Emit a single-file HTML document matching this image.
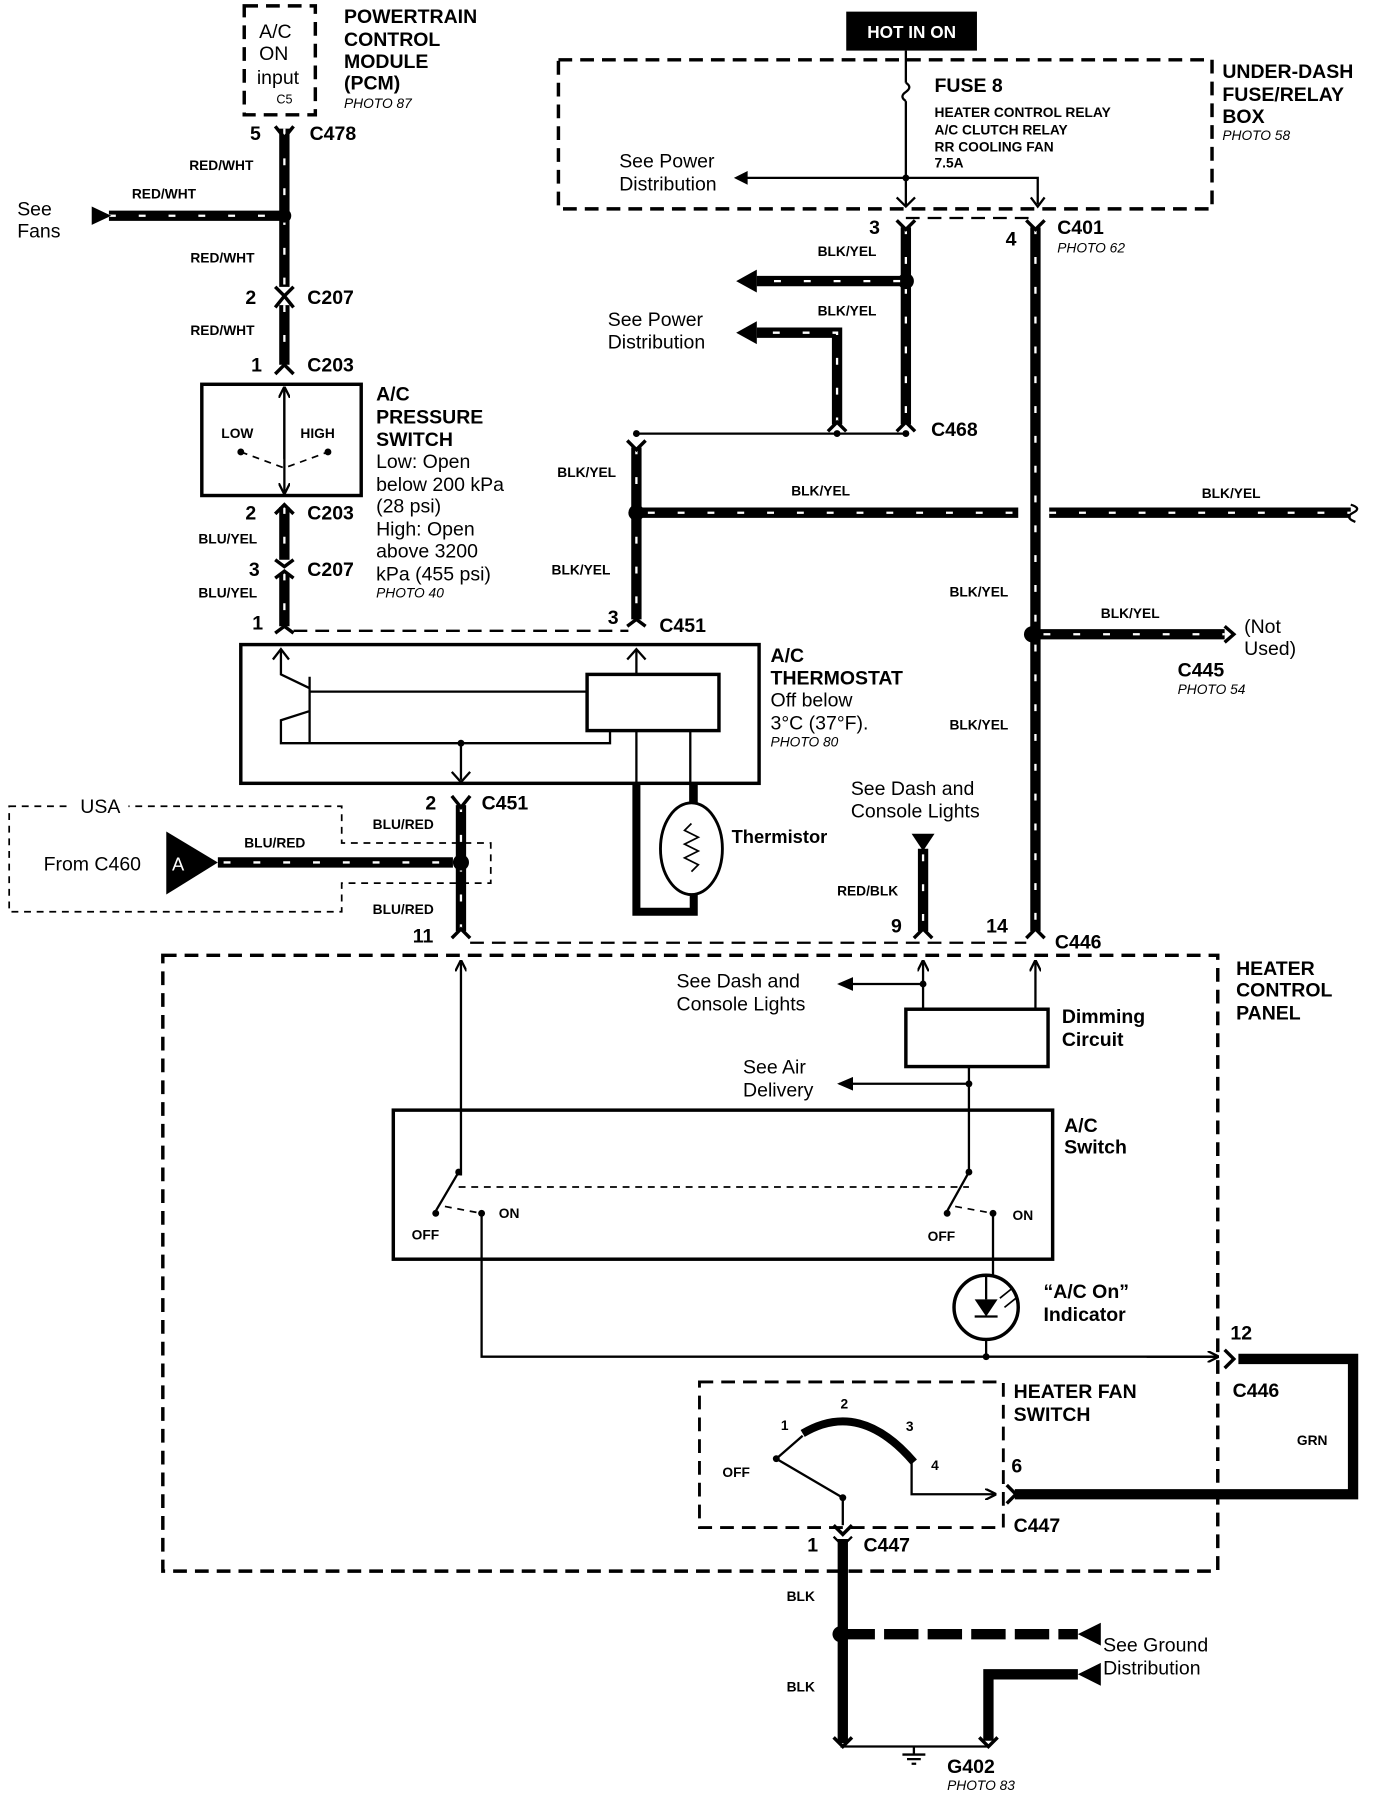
<!DOCTYPE html>
<html><head><meta charset="utf-8"><style>
html,body{margin:0;padding:0;background:#fff;}
svg{display:block;}
text{font-family:"Liberation Sans",Arial,sans-serif;fill:#000;}
.b{font-weight:bold;font-size:17px;}
.n{font-size:17px;}
.s{font-weight:bold;font-size:12px;}
.p{font-style:italic;font-size:12px;}
.w{stroke:#000;stroke-width:9;fill:none;}
.wd{stroke:#fff;stroke-width:2;stroke-dasharray:6 20;fill:none;}
.t{stroke:#000;stroke-width:2;fill:none;}
.d{stroke:#000;stroke-width:3;fill:none;stroke-dasharray:12 7;}
.dt{stroke:#000;stroke-width:1.5;fill:none;stroke-dasharray:6 5;}
</style></head><body>
<svg width="1376" height="1796" viewBox="0 0 1200 1566" xmlns="http://www.w3.org/2000/svg">
<defs>
<marker id="ar" markerWidth="10" markerHeight="10" refX="9" refY="5" orient="auto" markerUnits="userSpaceOnUse"><path d="M0,0 L10,5 L0,10" fill="none" stroke="#000" stroke-width="2"/></marker>
<marker id="af" markerWidth="14" markerHeight="12" refX="12" refY="6" orient="auto" markerUnits="userSpaceOnUse"><path d="M0,0 L14,6 L0,12 Z" fill="#000"/></marker>
</defs>

<!-- PCM -->
<rect x="213" y="5" width="62" height="95" class="d"/>
<text x="226" y="33" class="n">A/C</text><text x="226" y="52" class="n">ON</text><text x="224" y="73" class="n">input</text><text x="241" y="90" style="font-size:11px">C5</text>
<text x="300" y="20" class="b">POWERTRAIN</text><text x="300" y="40" class="b">CONTROL</text><text x="300" y="59" class="b">MODULE</text><text x="300" y="78" class="b">(PCM)</text><text x="300" y="94" class="p">PHOTO 87</text>

<!-- left wire -->
<path d="M248,112 V250 M248,266 V318" class="w"/><path d="M248,112 V250 M248,266 V318" class="wd"/>
<path d="M240,110 L248,120 L256,110 M240,268 L248,258 L256,268 M240,250 L248,258 L256,250 M240,326 L248,318 L256,326" class="t" style="stroke-width:3"/>
<text x="218" y="122" class="b">5</text><text x="270" y="122" class="b">C478</text>
<text x="165" y="148" class="s">RED/WHT</text><text x="166" y="229" class="s">RED/WHT</text><text x="166" y="292" class="s">RED/WHT</text>
<path d="M95,188 H248" class="w"/><path d="M95,188 H248" class="wd"/>
<path d="M80,180 L97,188 L80,196 Z"/><circle cx="248" cy="188" r="6"/>
<text x="115" y="173" class="s">RED/WHT</text>
<text x="15" y="188" class="n">See</text><text x="15" y="207" class="n">Fans</text>
<text x="214" y="265" class="b">2</text><text x="268" y="265" class="b">C207</text>
<text x="219" y="324" class="b">1</text><text x="268" y="324" class="b">C203</text>

<!-- pressure switch -->
<rect x="176" y="335" width="139" height="97" class="t" style="stroke-width:3"/>
<path d="M248,338 V430" class="t" marker-end="url(#ar)"/><path d="M248,400 V338" class="t" marker-end="url(#ar)"/>
<text x="193" y="382" class="s">LOW</text><text x="262" y="382" class="s">HIGH</text>
<circle cx="210" cy="394" r="3"/><circle cx="286" cy="394" r="3"/>
<path d="M210,394 L248,408 L286,394" class="dt"/>
<text x="328" y="349" class="b">A/C</text><text x="328" y="369" class="b">PRESSURE</text><text x="328" y="389" class="b">SWITCH</text>
<text x="328" y="408" class="n">Low: Open</text><text x="328" y="428" class="n">below 200 kPa</text><text x="328" y="447" class="n">(28 psi)</text><text x="328" y="467" class="n">High: Open</text><text x="328" y="486" class="n">above 3200</text><text x="328" y="506" class="n">kPa (455 psi)</text><text x="328" y="521" class="p">PHOTO 40</text>
<path d="M248,442 V488 M248,500 V546" class="w"/><path d="M248,442 V488 M248,500 V546" class="wd"/>
<path d="M240,448 L248,440 L256,448 M240,488 L248,494 L256,488 M240,504 L248,498 L256,504 M240,552 L248,546 L256,552" class="t" style="stroke-width:3"/>
<text x="214" y="453" class="b">2</text><text x="268" y="453" class="b">C203</text>
<text x="173" y="474" class="s">BLU/YEL</text><text x="173" y="521" class="s">BLU/YEL</text>
<text x="217" y="502" class="b">3</text><text x="268" y="502" class="b">C207</text>
<text x="220" y="549" class="b">1</text>
<path d="M256,550 H548" class="d" style="stroke-width:2"/>

<!-- thermostat -->
<rect x="210" y="562" width="452" height="121" class="t" style="stroke-width:3"/>
<rect x="512" y="588" width="115" height="49" class="t" style="stroke-width:3"/>
<path d="M245,567 V588 L270,600 M270,590 V648 M270,603 H512 M270,620 L245,628 V648 H532 V637 M402,648 V680" class="t"/>
<path d="M238,575 L245,566 L252,575" class="t"/>
<circle cx="402" cy="648" r="3"/>
<path d="M394,673 L402,682 L410,673 M547,575 L555,566 L563,575" class="t"/>
<path d="M555,566 V588" class="t"/>
<path d="M555,637 V700 M602,637 V700" class="t"/>
<text x="672" y="577" class="b">A/C</text><text x="672" y="597" class="b">THERMOSTAT</text><text x="672" y="616" class="n">Off below</text><text x="672" y="636" class="n">3°C (37°F).</text><text x="672" y="651" class="p">PHOTO 80</text>
<!-- thermistor -->
<path d="M555,683 V795 H605 V683" class="t" style="stroke-width:7"/>
<ellipse cx="603" cy="740" rx="27" ry="40" fill="#fff" stroke="#000" stroke-width="2.5"/>
<path d="M603,718 L597,724 L609,730 L597,736 L609,742 L597,748 L609,754 L603,760" class="t" style="stroke-width:1.5"/>
<text x="638" y="735" class="b" style="font-size:16px">Thermistor</text>

<!-- C451 pin 3 / BLK/YEL -->
<path d="M555,390 V540" class="w"/><path d="M555,390 V540" class="wd"/>
<path d="M547,546 L555,540 L563,546 M547,384 L555,392 L563,384" class="t" style="stroke-width:3"/>
<circle cx="555" cy="378" r="3"/>
<text x="486" y="416" class="s">BLK/YEL</text><text x="481" y="501" class="s">BLK/YEL</text>
<text x="530" y="544" class="b">3</text><text x="575" y="551" class="b">C451</text>
<circle cx="555" cy="447" r="7"/>
<path d="M555,447 H888 M915,447 H1178" class="w"/><path d="M565,447 H888 M915,447 H1178" class="wd"/>
<path d="M1178,440 Q1188,443 1180,447 Q1172,451 1182,455" class="t"/>
<text x="690" y="432" class="s">BLK/YEL</text><text x="1048" y="434" class="s">BLK/YEL</text>

<!-- fuse box -->
<rect x="738" y="10" width="114" height="34" fill="#000"/>
<text x="795" y="33" text-anchor="middle" style="font-size:15px;fill:#fff;font-weight:bold">HOT IN ON</text>
<rect x="487" y="52" width="570" height="130" class="d"/>
<path d="M790,44 V72 M790,88 V180 M790,155 H648 M790,155 H905 V178" class="t"/>
<path d="M790,72 Q796,76 790,80 Q784,84 790,88" class="t"/>
<path d="M652,149 L640,155 L652,161 Z"/><path d="M899,172 L905,180 L911,172" class="t"/><circle cx="790" cy="155" r="3"/>
<path d="M782,172 L790,180 L798,172" class="t"/>
<text x="815" y="80" class="b">FUSE 8</text>
<text x="815" y="102" class="s">HEATER CONTROL RELAY</text><text x="815" y="117" class="s">A/C CLUTCH RELAY</text><text x="815" y="132" class="s">RR COOLING FAN</text><text x="815" y="146" class="s">7.5A</text>
<text x="540" y="146" class="n">See Power</text><text x="540" y="166" class="n">Distribution</text>
<text x="1066" y="68" class="b">UNDER-DASH</text><text x="1066" y="88" class="b">FUSE/RELAY</text><text x="1066" y="107" class="b">BOX</text><text x="1066" y="122" class="p">PHOTO 58</text>
<path d="M790,190 H903" class="d" style="stroke-width:2"/>
<text x="758" y="204" class="b">3</text><text x="877" y="214" class="b">4</text><text x="922" y="204" class="b">C401</text><text x="922" y="220" class="p">PHOTO 62</text>
<!-- x=790 wire -->
<path d="M790,198 V370" class="w"/><path d="M790,198 V370" class="wd"/>
<path d="M782,192 L790,200 L798,192 M782,376 L790,368 L798,376" class="t" style="stroke-width:3"/>
<circle cx="790" cy="245" r="7"/>
<path d="M790,245 H660" class="w"/><path d="M785,245 H660" class="wd"/>
<path d="M660,235 L642,245 L660,255 Z"/>
<text x="713" y="223" class="s">BLK/YEL</text><text x="713" y="275" class="s">BLK/YEL</text>
<path d="M730,370 V290 H660" class="w"/><path d="M730,370 V290 H660" class="wd"/>
<path d="M660,280 L642,290 L660,300 Z"/>
<path d="M722,376 L730,368 L738,376" class="t" style="stroke-width:3"/>
<text x="530" y="284" class="n">See Power</text><text x="530" y="304" class="n">Distribution</text>
<path d="M555,378 H790" class="t"/><circle cx="730" cy="378" r="3"/><circle cx="790" cy="378" r="3"/>
<text x="812" y="380" class="b">C468</text>

<!-- x=903 wire -->
<path d="M903,198 V812" class="w"/><path d="M903,198 V812" class="wd"/>
<path d="M895,192 L903,200 L911,192 M895,818 L903,810 L911,818" class="t" style="stroke-width:3"/>
<text x="828" y="520" class="s">BLK/YEL</text><text x="828" y="636" class="s">BLK/YEL</text>
<circle cx="900" cy="553" r="7"/>
<path d="M900,553 H1068" class="w"/><path d="M910,553 H1068" class="wd"/>
<path d="M1068,546 L1076,553 L1068,560" class="t" style="stroke-width:3"/>
<text x="960" y="539" class="s">BLK/YEL</text>
<text x="1085" y="552" class="n">(Not</text><text x="1085" y="571" class="n">Used)</text>
<text x="1027" y="590" class="b">C445</text><text x="1027" y="605" class="p">PHOTO 54</text>

<!-- C451 pin2 and USA -->
<path d="M402,702 V812" class="w"/><path d="M402,702 V812" class="wd"/>
<path d="M394,694 L402,704 L410,694 M394,818 L402,810 L410,818" class="t" style="stroke-width:3"/>
<text x="371" y="706" class="b">2</text><text x="420" y="706" class="b">C451</text>
<text x="325" y="723" class="s">BLU/RED</text><text x="325" y="797" class="s">BLU/RED</text>
<path d="M8,703 H298 V735 H428 V770 H298 V795 H8 Z" class="dt"/>
<rect x="62" y="694" width="50" height="18" fill="#fff"/><text x="70" y="709" class="n">USA</text>
<text x="38" y="759" class="n">From C460</text>
<path d="M145,725 L190,752 L145,780 Z"/>
<text x="150" y="759" style="font-size:16px;fill:#fff">A</text>
<path d="M190,752 H395" class="w"/><path d="M195,752 H395" class="wd"/>
<circle cx="402" cy="752" r="7"/>
<text x="213" y="739" class="s">BLU/RED</text>
<text x="360" y="822" class="b">11</text>

<!-- C446 pin 9 -->
<text x="742" y="693" class="n">See Dash and</text><text x="742" y="713" class="n">Console Lights</text>
<path d="M795,727 H815 L805,742 Z"/>
<path d="M805,740 V812" class="w"/><path d="M805,745 V812" class="wd"/>
<path d="M797,818 L805,810 L813,818" class="t" style="stroke-width:3"/>
<text x="730" y="781" class="s">RED/BLK</text>
<text x="777" y="813" class="b">9</text><text x="860" y="813" class="b">14</text><text x="920" y="827" class="b">C446</text>
<path d="M410,822 H895" class="d" style="stroke-width:2"/>

<!-- heater control panel -->
<rect x="142" y="833" width="920" height="537" class="d"/>
<text x="1078" y="850" class="b">HEATER</text><text x="1078" y="869" class="b">CONTROL</text><text x="1078" y="889" class="b">PANEL</text>
<path d="M402,1025 V838" class="t" marker-end="url(#ar)"/>
<path d="M805,880 V838" class="t" marker-end="url(#ar)"/><path d="M903,880 V838" class="t" marker-end="url(#ar)"/>
<path d="M805,858 H732" class="t" marker-end="url(#af)"/><circle cx="805" cy="858" r="3"/>
<text x="590" y="861" class="n">See Dash and</text><text x="590" y="881" class="n">Console Lights</text>
<rect x="790" y="880" width="124" height="50" class="t" style="stroke-width:3"/>
<text x="926" y="892" class="b">Dimming</text><text x="926" y="912" class="b">Circuit</text>
<path d="M845,930 V1020" class="t"/><path d="M845,945 H732" class="t" marker-end="url(#af)"/><circle cx="845" cy="945" r="3"/>
<text x="648" y="936" class="n">See Air</text><text x="648" y="956" class="n">Delivery</text>
<rect x="343" y="968" width="575" height="130" class="t" style="stroke-width:3"/>
<text x="928" y="987" class="b">A/C</text><text x="928" y="1006" class="b">Switch</text>
<circle cx="400" cy="1022" r="3"/><circle cx="380" cy="1058" r="3"/><circle cx="420" cy="1058" r="3"/>
<path d="M400,1022 L380,1056" class="t"/>
<circle cx="845" cy="1022" r="3"/><circle cx="826" cy="1058" r="3"/><circle cx="866" cy="1058" r="3"/>
<path d="M845,1022 L826,1056" class="t"/>
<path d="M400,1035 H845 M388,1052 L420,1058" class="dt"/>
<path d="M833,1052 L866,1058" class="dt"/>
<text x="359" y="1081" class="s">OFF</text><text x="435" y="1062" class="s">ON</text>
<text x="809" y="1082" class="s">OFF</text><text x="883" y="1064" class="s">ON</text>
<path d="M420,1058 V1183 H1062" class="t"/><path d="M1000,1183 H1062" class="t" marker-end="url(#ar)"/>
<path d="M866,1058 V1112 M860,1168 V1183" class="t"/><circle cx="860" cy="1183" r="3"/>
<circle cx="860" cy="1140" r="28" class="t" style="stroke-width:3"/>
<path d="M850,1133 H870 L860,1148 Z" fill="#000"/><path d="M850,1148 H870 M860,1112 V1133" class="t"/>
<path d="M872,1132 L882,1124 M876,1140 L886,1132" class="t" style="stroke-width:1.5"/>
<text x="910" y="1132" class="b">“A/C On”</text><text x="910" y="1152" class="b">Indicator</text>
<path d="M1068,1177 L1076,1185 L1068,1193" class="t" style="stroke-width:3"/>
<text x="1073" y="1168" class="b">12</text><text x="1075" y="1218" class="b">C446</text><text x="1131" y="1260" class="s">GRN</text>
<path d="M1080,1185 H1180 V1303 H885" class="w"/>
<path d="M878,1295 L886,1303 L878,1311" class="t" style="stroke-width:3"/>

<!-- heater fan switch -->
<rect x="610" y="1205" width="265" height="127" class="d" style="stroke-width:2.5"/>
<text x="884" y="1219" class="b">HEATER FAN</text><text x="884" y="1239" class="b">SWITCH</text>
<path d="M700,1250 Q750,1220 797,1275" class="t" style="stroke-width:7"/>
<circle cx="677" cy="1272" r="3"/><circle cx="735" cy="1306" r="3"/>
<path d="M677,1272 L735,1306 M735,1306 V1330 M677,1272 L700,1252" class="t"/>
<path d="M795,1275 V1303 H868" class="t" marker-end="url(#ar)"/>
<text x="681" y="1247" class="s">1</text><text x="733" y="1228" class="s">2</text><text x="790" y="1248" class="s">3</text><text x="812" y="1282" class="s">4</text><text x="630" y="1288" class="s">OFF</text>
<text x="882" y="1284" class="b">6</text><text x="884" y="1336" class="b">C447</text>

<!-- ground -->
<path d="M727,1330 L735,1338 L743,1330" class="t" style="stroke-width:3"/>
<path d="M735,1342 V1520" class="w"/>
<path d="M727,1340 L735,1348 L743,1340" class="t"/>
<text x="704" y="1353" class="b">1</text><text x="753" y="1353" class="b">C447</text>
<text x="686" y="1396" class="s">BLK</text><text x="686" y="1475" class="s">BLK</text>
<circle cx="733" cy="1425" r="7"/>
<path d="M733,1425 H940" class="w" stroke-dasharray="30 8"/>
<path d="M960,1415 L940,1425 L960,1435 Z"/>
<path d="M862,1518 V1460 H940" class="w"/>
<path d="M960,1450 L940,1460 L960,1470 Z"/>
<text x="962" y="1440" class="n">See Ground</text><text x="962" y="1460" class="n">Distribution</text>
<path d="M727,1515 L735,1523 L743,1515 M854,1515 L862,1523 L870,1515" class="t" style="stroke-width:3"/>
<path d="M733,1523 H862" class="t"/>
<path d="M797,1523 V1530 M787,1530 H807 M791,1534 H803 M795,1538 H799" class="t"/>
<text x="826" y="1546" class="b">G402</text><text x="826" y="1561" class="p">PHOTO 83</text>
</svg>
</body></html>
